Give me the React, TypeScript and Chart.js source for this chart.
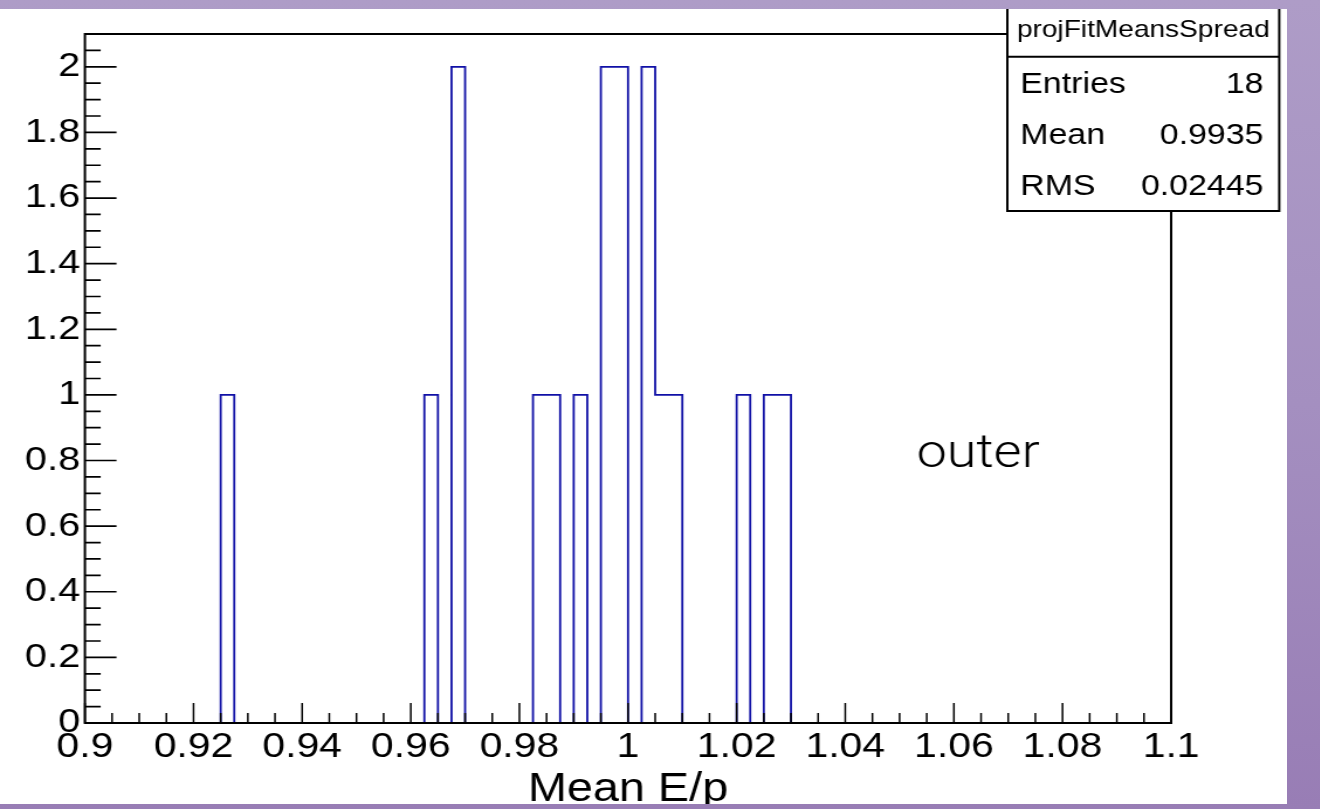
import { useEffect, useRef } from 'react';
import { Chart, registerables } from 'chart.js';

Chart.register(...registerables);

// Histogram binning: 80 bins of 0.0025 between 0.9 and 1.1
const X_MIN = 0.9;
const X_MAX = 1.1;
const BIN_WIDTH = 0.0025;
const Y_MAX = 2.1;

// Low edges of the non-empty bins and their contents
const filledBinLowEdges = [0.925, 0.9625, 0.9675, 0.9825, 0.985, 0.99, 0.995, 0.9975, 1.0025, 1.005, 1.0075, 1.02, 1.025, 1.0275];
const filledBinCounts = [1, 1, 2, 1, 1, 1, 2, 2, 2, 1, 1, 1, 1, 1];

const xTickValues = [0.9, 0.92, 0.94, 0.96, 0.98, 1.0, 1.02, 1.04, 1.06, 1.08, 1.1];
const xTickLabels = ['0.9', '0.92', '0.94', '0.96', '0.98', '1', '1.02', '1.04', '1.06', '1.08', '1.1'];
const yTickValues = [0, 0.2, 0.4, 0.6, 0.8, 1.0, 1.2, 1.4, 1.6, 1.8, 2.0];
const yTickLabels = ['0', '0.2', '0.4', '0.6', '0.8', '1', '1.2', '1.4', '1.6', '1.8', '2'];

const xTitle = 'Mean E/p';
const statsTitle = 'projFitMeansSpread';
const statsNames = ['Entries', 'Mean', 'RMS'];
const statsValues = ['18', '0.9935', '0.02445'];
const panelLabel = 'outer';

const SANS = '"Liberation Sans", Arial, Helvetica, sans-serif';
const LINE_COLOR = '#1010a6';

// Canvas is drawn at 1100 px wide and shown 1287 px wide
const CANVAS_W = 1100;
const CANVAS_H = 795;

function buildOutline() {
  const nBins = Math.round((X_MAX - X_MIN) / BIN_WIDTH);
  const counts: number[] = new Array(nBins).fill(0);
  filledBinLowEdges.forEach((edge, i) => {
    const b = Math.round((edge - X_MIN) / BIN_WIDTH);
    counts[b] += filledBinCounts[i];
  });
  // each point sits on a bin's low edge; the step runs horizontally first
  const pts: { x: number; y: number }[] = [{ x: X_MIN, y: 0 }];
  counts.forEach((c, b) => {
    pts.push({ x: X_MIN + b * BIN_WIDTH, y: c });
  });
  pts.push({ x: X_MAX, y: 0 });
  return pts;
}

const frameAndStatsPlugin = {
  id: 'frameAndStats',
  afterDatasetsDraw(chart: any) {
    const { ctx, chartArea: a, scales } = chart;
    const xs = scales.x;
    const ys = scales.y;
    ctx.save();
    ctx.strokeStyle = '#000';
    ctx.lineWidth = 2;
    ctx.lineCap = 'butt';
    ctx.beginPath();
    ctx.moveTo(a.left, a.top);
    ctx.lineTo(a.right, a.top);
    ctx.lineTo(a.right, a.bottom);
    ctx.lineTo(a.left, a.bottom);
    ctx.closePath();
    ctx.stroke();

    // inward tick marks on the y axis: major every 0.2, minor every 0.05
    ctx.lineWidth = 1.7;
    ctx.beginPath();
    for (let k = 0; k < 42; k++) {
      const v = k * 0.05;
      const py = ys.getPixelForValue(v);
      const len = k % 4 === 0 ? 27 : 13.5;
      ctx.moveTo(a.left, py);
      ctx.lineTo(a.left + len, py);
    }
    ctx.stroke();

    // inward tick marks on the x axis: major every 0.02, minor every 0.005
    ctx.lineWidth = 1.5;
    ctx.beginPath();
    for (let k = 0; k <= 40; k++) {
      const v = X_MIN + k * 0.005;
      const px = xs.getPixelForValue(v);
      const len = k % 4 === 0 ? 20 : 10;
      ctx.moveTo(px, a.bottom);
      ctx.lineTo(px, a.bottom - len);
    }
    ctx.stroke();
    ctx.restore();
  },
  afterDraw(chart: any) {
    const { ctx } = chart;
    ctx.save();
    // statistics box
    const bl = 861, br = 1093.4, bt = -2, bd = 47.7, bb = 202;
    ctx.fillStyle = '#fff';
    ctx.fillRect(bl, bt, br - bl, bb - bt);
    ctx.strokeStyle = '#000';
    ctx.lineWidth = 2;
    ctx.strokeRect(bl, bt, br - bl, bb - bt);
    ctx.beginPath();
    ctx.moveTo(bl, bd);
    ctx.lineTo(br, bd);
    ctx.stroke();

    ctx.fillStyle = '#000';
    ctx.textBaseline = 'middle';
    ctx.font = `24px ${SANS}`;
    ctx.textAlign = 'center';
    ctx.fillText(statsTitle, (bl + br) / 2, 21);

    ctx.font = `29px ${SANS}`;
    const rowY = [76, 127, 178];
    statsNames.forEach((name, i) => {
      ctx.textAlign = 'left';
      ctx.fillText(name, 872, rowY[i]);
      ctx.textAlign = 'right';
      ctx.fillText(statsValues[i], 1080, rowY[i]);
    });

    // panel label
    ctx.font = `300 46px Roboto, "Liberation Sans", sans-serif`;
    ctx.textAlign = 'left';
    ctx.textBaseline = 'alphabetic';
    ctx.fillText(panelLabel, 783.5, 458);
    ctx.restore();
  },
};

export default function App() {
  const canvasRef = useRef<HTMLCanvasElement | null>(null);

  useEffect(() => {
    const canvas = canvasRef.current;
    if (!canvas) return;
    const chart = new Chart(canvas, {
      type: 'line',
      data: {
        datasets: [
          {
            data: buildOutline(),
            stepped: 'before',
            borderColor: LINE_COLOR,
            borderWidth: 1.8,
            borderJoinStyle: 'miter',
            pointRadius: 0,
            fill: false,
          },
        ],
      },
      options: {
        responsive: false,
        devicePixelRatio: 1,
        animation: false,
        layout: { padding: { top: 25, right: 99, left: 0, bottom: 0 } },
        plugins: {
          legend: { display: false },
          tooltip: { enabled: false },
        },
        scales: {
          x: {
            type: 'linear',
            min: X_MIN,
            max: X_MAX,
            grid: { display: false, drawTicks: false },
            border: { display: false },
            afterBuildTicks: (scale: any) => {
              scale.ticks = xTickValues.map((v) => ({ value: v }));
            },
            afterFit: (scale: any) => {
              scale.height = 81;
            },
            ticks: {
              autoSkip: false,
              maxRotation: 0,
              padding: 3,
              color: '#000',
              font: { family: SANS, size: 35 },
              callback: (_v: any, i: number) => xTickLabels[i],
            },
            title: {
              display: true,
              text: xTitle,
              color: '#000',
              font: { family: SANS, size: 40 },
              padding: { top: 0, bottom: -10 },
            },
          },
          y: {
            type: 'linear',
            min: 0,
            max: Y_MAX,
            grid: { display: false, drawTicks: false },
            border: { display: false },
            afterBuildTicks: (scale: any) => {
              scale.ticks = yTickValues.map((v) => ({ value: v }));
            },
            afterFit: (scale: any) => {
              scale.width = 72.6;
            },
            ticks: {
              padding: 4,
              color: '#000',
              font: { family: SANS, size: 34 },
              callback: (_v: any, i: number) => yTickLabels[i],
            },
          },
        },
      },
      plugins: [frameAndStatsPlugin],
    } as any);
    return () => chart.destroy();
  }, []);

  return (
    <div
      style={{
        position: 'fixed',
        inset: 0,
        background: 'linear-gradient(180deg, #ae9cc7 0%, #a48fc0 50%, #987db5 100%)',
        overflow: 'hidden',
      }}
    >
      <canvas
        ref={canvasRef}
        width={CANVAS_W}
        height={CANVAS_H}
        style={{
          position: 'absolute',
          left: 0,
          top: 9,
          width: 1287,
          height: CANVAS_H,
          background: '#fff',
        }}
      />
    </div>
  );
}
